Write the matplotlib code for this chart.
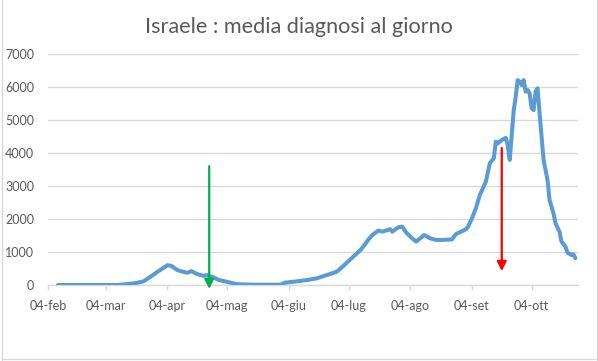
import numpy as np
import pandas as pd
import matplotlib
matplotlib.use('Agg')
import matplotlib.pyplot as plt
import matplotlib.dates as mdates
from matplotlib.lines import Line2D

# daily average of new diagnoses
dates = ['2020-02-09', '2020-03-10', '2020-03-15', '2020-03-18', '2020-03-20',
         '2020-03-23', '2020-03-26', '2020-03-30', '2020-04-03', '2020-04-04',
         '2020-04-06', '2020-04-09', '2020-04-12', '2020-04-14', '2020-04-16',
         '2020-04-19', '2020-04-22', '2020-04-24', '2020-04-27', '2020-04-30',
         '2020-05-05', '2020-05-09', '2020-05-16', '2020-05-23', '2020-05-31',
         '2020-06-02', '2020-06-08', '2020-06-13', '2020-06-18', '2020-06-23',
         '2020-06-28', '2020-07-01', '2020-07-05', '2020-07-10', '2020-07-12',
         '2020-07-14', '2020-07-16', '2020-07-19', '2020-07-21', '2020-07-25',
         '2020-07-26', '2020-07-29', '2020-07-31', '2020-08-02', '2020-08-05',
         '2020-08-07', '2020-08-10', '2020-08-11', '2020-08-14', '2020-08-17',
         '2020-08-20', '2020-08-25', '2020-08-27', '2020-08-29', '2020-09-01',
         '2020-09-02', '2020-09-04', '2020-09-06', '2020-09-08', '2020-09-11',
         '2020-09-13', '2020-09-15', '2020-09-16', '2020-09-17', '2020-09-19',
         '2020-09-21', '2020-09-22', '2020-09-23', '2020-09-24', '2020-09-25',
         '2020-09-26', '2020-09-27', '2020-09-28', '2020-09-29', '2020-09-30',
         '2020-10-01', '2020-10-02', '2020-10-03', '2020-10-04', '2020-10-05',
         '2020-10-06', '2020-10-07', '2020-10-08', '2020-10-10', '2020-10-12',
         '2020-10-13', '2020-10-15', '2020-10-16', '2020-10-18', '2020-10-19',
         '2020-10-21', '2020-10-22', '2020-10-24', '2020-10-25', '2020-10-26']
values = [0, 0, 30, 50, 70,
          110, 230, 400, 555, 600,
          580, 450, 400, 370, 420,
          330, 280, 300, 230, 150,
          80, 25, 10, 10, 10,
          70, 110, 150, 200, 300,
          400, 555, 780, 1060, 1210,
          1380, 1515, 1650, 1615, 1690,
          1615, 1750, 1770, 1585, 1415,
          1315, 1465, 1515, 1415, 1365,
          1365, 1380, 1545, 1600, 1690,
          1760, 2020, 2325, 2730, 3130,
          3690, 3840, 4345, 4290, 4395,
          4460, 4240, 3790, 4545, 5300,
          5700, 6210, 6160, 6060, 6210,
          5860, 5910, 5810, 5355, 5300,
          5860, 5960, 5200, 3790, 3180,
          2575, 2170, 1870, 1615, 1315,
          1160, 980, 910, 930, 810]

tick_dates = ['2020-02-04', '2020-03-04', '2020-04-04', '2020-05-04', '2020-06-04',
              '2020-07-04', '2020-08-04', '2020-09-04', '2020-10-04']
tick_labels = ['04-feb', '04-mar', '04-apr', '04-mag', '04-giu',
               '04-lug', '04-ago', '04-set', '04-ott']

# arrows: (date, start value, end value)
green_arrow = ('2020-04-25', 3600, -120)
red_arrow = ('2020-09-19', 4150, 420)

title = 'Israele : media diagnosi al giorno'

plt.rcParams['font.family'] = ['Lato', 'DejaVu Sans']
grey_txt = '#595959'
grey_line = '#d9d9d9'

fig = plt.figure(figsize=(5.98, 3.61), dpi=100)
ax = fig.add_axes([48 / 598, 76 / 361, 530 / 598, 231 / 361])

x = pd.to_datetime(dates)
ax.plot(x, values, color='#5b9bd5', lw=2.9, solid_joinstyle='round',
        solid_capstyle='round', zorder=3)

start = mdates.date2num(pd.Timestamp('2020-02-04'))
ax.set_xlim(start, start + 266.3)
ax.set_ylim(0, 7000)
ax.set_yticks(np.arange(0, 7001, 1000))
ax.set_yticklabels([str(v) for v in range(0, 7001, 1000)])
ax.set_xticks(mdates.date2num(pd.to_datetime(tick_dates)))
ax.set_xticklabels(tick_labels)

ax.grid(axis='y', color=grey_line, lw=1.0)
ax.set_axisbelow(True)
for s in ['top', 'right', 'left']:
    ax.spines[s].set_visible(False)
ax.spines['bottom'].set_color(grey_line)
ax.spines['bottom'].set_linewidth(1.0)
ax.tick_params(axis='y', length=0, pad=10, labelsize=9, labelcolor=grey_txt)
ax.tick_params(axis='x', length=3.5, width=1.0, color=grey_line, pad=7,
               labelsize=9, labelcolor=grey_txt)

for (d, y0, y1), col in [(green_arrow, '#00b050'), (red_arrow, '#ff0000')]:
    xd = mdates.date2num(pd.Timestamp(d))
    ax.annotate('', xy=(xd, y1), xytext=(xd, y0),
                arrowprops=dict(arrowstyle='-|>', color=col, lw=1.6,
                                mutation_scale=14, shrinkA=0, shrinkB=0),
                annotation_clip=False, zorder=4)

fig.text(0.5, 1 - 27 / 361, title, ha='center', va='center',
         fontsize=15.6, color=grey_txt)

# chart border
fig.add_artist(Line2D([2 / 598, 2 / 598], [0, 1], color=grey_line, lw=1))
fig.add_artist(Line2D([597 / 598, 597 / 598], [0, 1], color=grey_line, lw=1))
fig.add_artist(Line2D([2 / 598, 597 / 598], [2 / 361, 2 / 361], color=grey_line, lw=1))

fig.savefig('out.png', dpi=100)
